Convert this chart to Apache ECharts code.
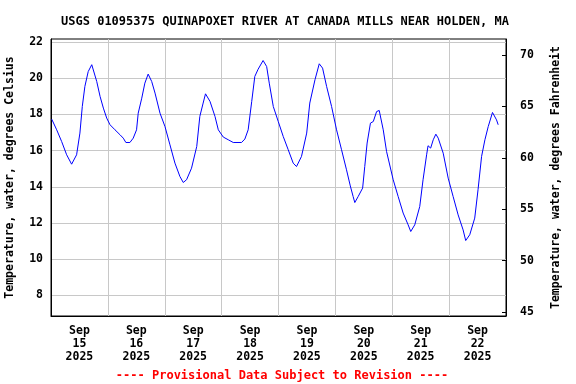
<!DOCTYPE html>
<html><head><meta charset="utf-8">
<script src="https://cdn.jsdelivr.net/npm/echarts@6/dist/echarts.min.js"></script>
<style>html,body{margin:0;padding:0;background:#fff}#c{width:576px;height:384px}</style>
</head><body><div id="c"></div>
<script>
// hours since 2025-09-15 00:00
const hours = [0.3,2.4,4.5,6.6,8.7,10.8,12.2,13.2,14.3,15.7,17.2,19.3,20.7,22.1,23.5,24.9,27.0,29.1,30.5,31.6,33.3,34.7,36.1,36.8,38.3,39.6,41.0,42.5,43.9,46.0,48.1,50.2,52.3,54.4,55.8,57.2,59.3,61.5,62.8,64.2,65.2,67.1,69.2,70.6,72.7,74.8,76.9,80.4,81.8,83.2,84.7,86.0,87.4,89.5,91.0,92.1,93.8,95.9,98.0,100.1,102.2,103.6,105.7,107.9,109.2,111.4,113.2,114.6,116.3,118.4,120.5,122.6,124.7,126.3,127.5,128.2,129.6,131.5,132.4,133.4,134.8,136.0,137.4,138.5,140.2,141.6,144.4,146.5,148.6,150.7,151.8,153.5,155.6,157.0,158.5,159.1,160.2,161.3,162.4,163.4,165.5,167.6,169.7,171.8,173.9,175.0,176.7,178.8,180.2,181.7,183.1,184.5,186.3,188.0,188.7];
const tempC = [17.74,17.15,16.5,15.77,15.25,15.77,16.97,18.44,19.55,20.37,20.75,19.82,19.0,18.35,17.8,17.43,17.15,16.88,16.69,16.45,16.45,16.69,17.15,18.07,18.9,19.73,20.23,19.82,19.18,18.07,17.33,16.32,15.31,14.57,14.24,14.39,15.03,16.23,17.89,18.63,19.14,18.72,17.89,17.15,16.75,16.6,16.45,16.45,16.64,17.15,18.72,20.1,20.5,20.98,20.65,19.73,18.44,17.61,16.78,16.05,15.31,15.12,15.68,16.97,18.63,19.92,20.8,20.56,19.55,18.44,17.15,16.05,14.94,14.05,13.46,13.13,13.46,13.93,15.12,16.42,17.52,17.61,18.16,18.22,17.15,15.95,14.39,13.46,12.55,11.9,11.53,11.9,12.91,14.39,15.77,16.27,16.14,16.6,16.91,16.69,15.86,14.48,13.46,12.45,11.62,11.03,11.35,12.27,13.84,15.68,16.6,17.33,18.11,17.7,17.43];
const dayLabels = ['Sep\n15\n2025','Sep\n16\n2025','Sep\n17\n2025','Sep\n18\n2025','Sep\n19\n2025','Sep\n20\n2025','Sep\n21\n2025','Sep\n22\n2025'];
const celsiusTicks = [8,10,12,14,16,18,20,22];
const fahrenheitTicks = [45,50,55,60,65,70];

const FONT = 'DejaVu Sans Mono';
const txt = {fontFamily: FONT, fontWeight: 'bold', fontSize: 11.5, color: '#000'};
const chart = echarts.init(document.getElementById('c'), null, {renderer: 'canvas'});
chart.setOption({
  animation: false,
  backgroundColor: '#fff',
  title: [
    {text: 'USGS 01095375 QUINAPOXET RIVER AT CANADA MILLS NEAR HOLDEN, MA', left: 280, textAlign: 'center', top: 11,
     textStyle: Object.assign({}, txt, {fontSize: 12})},
    {text: '---- Provisional Data Subject to Revision ----', left: 277, textAlign: 'center', top: 365,
     textStyle: Object.assign({}, txt, {color: '#ff0000', fontSize: 12})}
  ],
  grid: {left: 51, right: 70, top: 39, bottom: 68, containLabel: false, outerBoundsMode: 'none',
         show: true, borderColor: '#000', borderWidth: 1, backgroundColor: 'transparent'},
  xAxis: [
    {type: 'value', min: 0, max: 192, interval: 24, position: 'bottom',
     axisLine: {show: true, lineStyle: {color: '#000'}}, axisTick: {show: false}, axisLabel: {show: false},
     splitLine: {show: true, lineStyle: {color: '#c8c8c8', width: 1}}},
    {type: 'category', data: dayLabels, boundaryGap: true, position: 'bottom',
     axisLine: {show: false}, axisTick: {show: false}, splitLine: {show: false},
     axisLabel: Object.assign({}, txt, {margin: 9, lineHeight: 13, interval: 0, align: 'center'})}
  ],
  yAxis: [
    {type: 'value', min: 6.86, max: 22.17, position: 'left',
     name: 'Temperature, water, degrees Celsius', nameLocation: 'middle', nameGap: 35, nameRotate: 90,
     nameTextStyle: Object.assign({}, txt),
     axisLine: {show: true, lineStyle: {color: '#000'}},
     axisTick: {show: false, customValues: celsiusTicks},
     axisLabel: Object.assign({}, txt, {margin: 8, customValues: celsiusTicks}),
     splitLine: {show: true, lineStyle: {color: '#c8c8c8', width: 1}}},
    {type: 'value', min: 44.61, max: 71.56, position: 'right',
     name: 'Temperature, water, degrees Fahrenheit', nameLocation: 'middle', nameGap: 44, nameRotate: 90,
     nameTextStyle: Object.assign({}, txt),
     axisLine: {show: true, lineStyle: {color: '#000'}},
     axisTick: {show: true, inside: true, length: 4, lineStyle: {color: '#000'}, customValues: fahrenheitTicks},
     axisLabel: Object.assign({}, txt, {margin: 14, customValues: fahrenheitTicks}),
     splitLine: {show: false}}
  ],
  series: [{
    type: 'line', xAxisIndex: 0, yAxisIndex: 0, showSymbol: false, symbol: 'none',
    lineStyle: {color: '#0000ff', width: 1}, itemStyle: {color: '#0000ff'},
    data: hours.map((h, i) => [h, tempC[i]])
  }]
});
</script></body></html>
